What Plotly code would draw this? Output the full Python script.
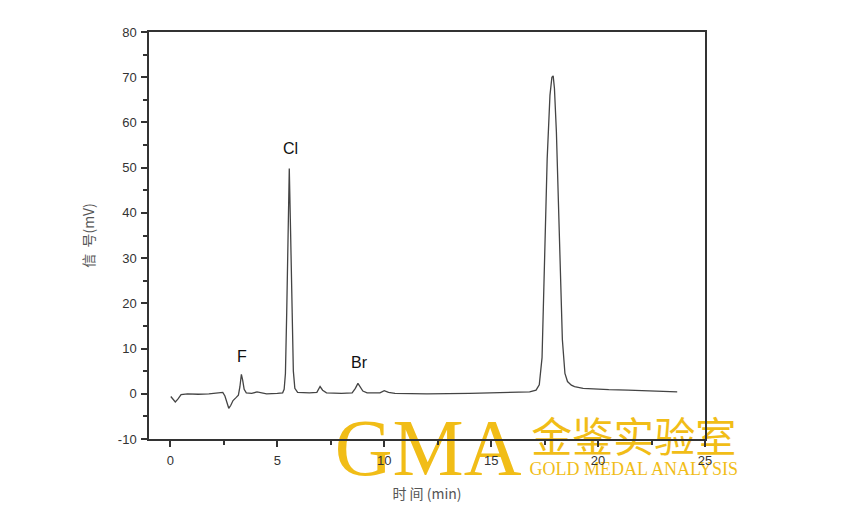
import plotly.graph_objects as go

# Chromatogram: retention time (min) and signal (mV)
time_min = [0.02, 0.1, 0.23, 0.35, 0.5, 0.8, 1.3, 1.8, 2.3, 2.45, 2.55, 2.65, 2.73, 2.82, 2.93,
            3.08, 3.18, 3.25, 3.32, 3.38, 3.45, 3.55, 3.8, 4.05, 4.2, 4.5, 5.0, 5.25, 5.32, 5.38,
            5.44, 5.5, 5.56, 5.62, 5.68, 5.75, 5.82, 5.95, 6.5, 6.85, 7.0, 7.12, 7.3, 8.0, 8.5,
            8.65, 8.77, 8.88, 9.0, 9.2, 9.8, 10.0, 10.2, 10.5, 12.0, 14.0, 16.0, 16.8, 17.1, 17.25,
            17.38, 17.5, 17.62, 17.75, 17.84, 17.9, 17.96, 18.05, 18.2, 18.33, 18.45, 18.57, 18.75,
            18.9, 19.3, 19.83, 20.5, 21.4, 22.5, 23.7]
signal_mv = [-0.6, -1.0, -1.8, -1.2, -0.2, 0.0, -0.1, 0.0, 0.2, 0.3, -0.5, -2.2, -3.2, -2.6, -1.5,
             -0.8, -0.3, 1.5, 4.3, 3.0, 1.0, 0.2, 0.1, 0.4, 0.3, 0.0, 0.1, 0.2, 1.0, 4.5,
             18, 35, 49.8, 36, 18, 5, 1.2, 0.3, 0.2, 0.3, 1.6, 0.8, 0.2, 0.1, 0.2,
             1.2, 2.3, 1.6, 0.6, 0.2, 0.2, 0.7, 0.3, 0.1, 0.0, 0.1, 0.2, 0.4, 0.8, 2.0,
             8, 28, 52, 66, 70.0, 70.3, 67.5, 58, 33, 12, 4.5, 2.7, 1.9,
             1.6, 1.2, 1.0, 0.9, 0.8, 0.6, 0.4]

# Peak labels
peak_names = ["F", "Cl", "Br"]
peak_time = [3.35, 5.6, 8.85]
peak_label_y = [8.2, 54.2, 7.0]

x_ticks = [0, 5, 10, 15, 20, 25]
y_ticks = [-10, 0, 10, 20, 30, 40, 50, 60, 70, 80]

axis_color = "#333333"
gold = "#F1BD17"

fig = go.Figure()

fig.add_trace(go.Scatter(
    x=time_min, y=signal_mv, mode="lines",
    line=dict(color="#444444", width=1.3),
    showlegend=False))

for name, t, yl in zip(peak_names, peak_time, peak_label_y):
    fig.add_annotation(x=t, y=yl, text=name, showarrow=False,
                       font=dict(family="Liberation Sans", size=16, color="#111111"))

# Watermark, drawn beneath axes via paper-referenced shapes with labels
def watermark(text, xc, yc, family, size):
    fig.add_shape(type="rect", xref="paper", yref="paper", layer="below",
                  x0=xc - 0.01, x1=xc + 0.01, y0=yc - 0.01, y1=yc + 0.01,
                  line=dict(width=0), fillcolor="rgba(0,0,0,0)",
                  label=dict(text=text, textposition="middle center",
                             font=dict(family=family, size=size, color=gold)))

watermark("GMA", 0.502, 0.0, "Liberation Serif", 80)
watermark("金鉴实验室", 0.872, -0.006, "Noto Sans CJK SC", 41)
watermark("GOLD MEDAL ANALYSIS", 0.872, -0.068, "Liberation Serif", 18)

fig.update_layout(
    width=834, height=517,
    margin=dict(l=141, r=137, t=24, b=86),
    paper_bgcolor="white", plot_bgcolor="rgba(0,0,0,0)",
    font=dict(family="Liberation Sans", size=13, color=axis_color),
)
fig.update_xaxes(
    range=[-1, 25], tickvals=x_ticks, ticktext=[str(v) for v in x_ticks],
    ticks="outside", ticklen=6, tickwidth=1.5, ticklabelstandoff=3,
    tickcolor=axis_color, showline=True, linecolor=axis_color, linewidth=1.5,
    mirror=True, showgrid=False, zeroline=False,
    minor=dict(dtick=2.5, tick0=0, ticks="outside", ticklen=4, tickwidth=1.5, tickcolor=axis_color),
    title=dict(text="时\u00a0间\u00a0(min)", font=dict(family="Noto Sans CJK SC", size=14, color="#555555"), standoff=22),
)
fig.update_yaxes(
    range=[-10, 80], tickvals=y_ticks, ticktext=[str(v) for v in y_ticks],
    ticks="outside", ticklen=6, tickwidth=1.5, ticklabelstandoff=2,
    tickcolor=axis_color, showline=True, linecolor=axis_color, linewidth=1.5,
    mirror=True, showgrid=False, zeroline=False,
    minor=dict(dtick=5, tick0=0, ticks="outside", ticklen=4, tickwidth=1.5, tickcolor=axis_color),
    title=dict(text="信\u00a0\u00a0号(mV)", font=dict(family="Noto Sans CJK SC", size=14, color="#555555"), standoff=20),
)

fig.write_html("out.html")
